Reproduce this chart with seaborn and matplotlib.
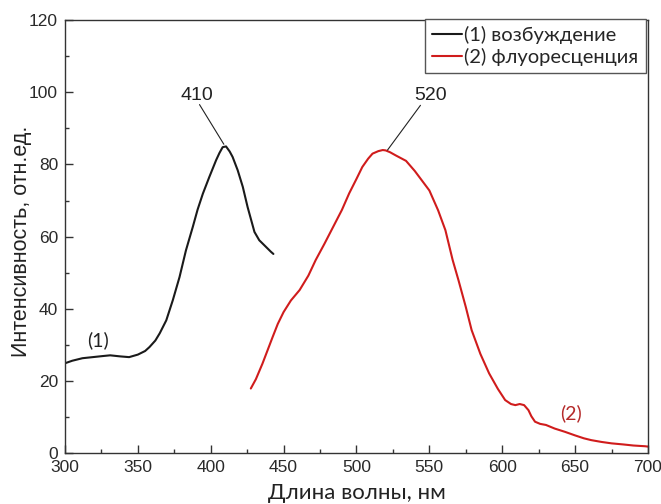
import matplotlib
matplotlib.use("Agg")
import matplotlib.pyplot as plt
from matplotlib.ticker import MultipleLocator
import numpy as np
import pandas as pd
import seaborn as sns

# Excitation spectrum (1)
exc_wl = [300, 305, 312, 319, 326, 331, 338, 344, 350, 355, 358, 362, 365,
          369.5, 374, 378.6, 383, 387.7, 391, 394.6, 399, 403.7, 406, 408.2,
          410.5, 413, 415, 418.5, 422, 425.3, 430, 433.3, 436.8, 441.3, 443]
exc_int = [24.9, 25.6, 26.3, 26.6, 26.9, 27.1, 26.8, 26.6, 27.3, 28.3, 29.4,
           31.2, 33.2, 36.8, 42.4, 48.8, 56.2, 62.7, 67.5, 71.9, 76.5, 81.2,
           83.2, 84.8, 85.0, 83.6, 82.1, 78.4, 73.8, 68.2, 61.3, 59.0, 57.6,
           55.8, 55.2]

# Fluorescence spectrum (2)
fl_wl = [427.5, 431, 435.5, 439, 442.5, 446, 450, 455, 461, 467, 472, 478,
         484, 490, 495, 500, 504, 508, 511, 515, 518, 520, 523, 527, 534, 540,
         545, 550, 556, 561, 566, 570, 575, 579, 585, 591, 597, 602, 606, 609,
         612, 615, 618, 620, 622.5, 626, 630, 636, 643, 650, 656, 661, 668,
         675, 683, 690, 698, 700]
fl_int = [17.9, 20.5, 24.8, 28.5, 32.2, 35.8, 39.1, 42.3, 45.2, 49.2, 53.5,
          58.0, 62.7, 67.4, 72.0, 76.0, 79.3, 81.6, 83.0, 83.7, 84.0, 83.9,
          83.4, 82.5, 81.0, 78.2, 75.5, 72.8, 67.3, 61.8, 53.5, 47.9, 40.5,
          34.1, 27.5, 22.1, 17.8, 14.7, 13.6, 13.3, 13.6, 13.3, 11.9, 10.2,
          8.7, 8.1, 7.8, 6.8, 5.9, 4.9, 4.1, 3.6, 3.1, 2.7, 2.4, 2.1, 1.9, 1.8]

legend_labels = ["(1) возбуждение", "(2) флуоресценция"]
peak_labels = ["410", "520"]
peak_positions = [(390.6, 99.2), (550.7, 99.2)]
leader_lines = [((392.3, 96.6), (409.0, 85.6)), ((543.9, 96.4), (521.3, 84.0))]

sns.set_theme(style="white")
plt.rcParams["font.family"] = ["Liberation Sans", "DejaVu Sans"]

df = pd.concat([
    pd.DataFrame({"wl": exc_wl, "I": exc_int, "series": legend_labels[0]}),
    pd.DataFrame({"wl": fl_wl, "I": fl_int, "series": legend_labels[1]}),
])

fig = plt.figure(figsize=(6.61, 5.04), dpi=100)
ax = fig.add_axes([0.0983, 0.101, 0.882, 0.859])

sns.lineplot(data=df, x="wl", y="I", hue="series", sort=False,
             palette={legend_labels[0]: "#1a1a1a", legend_labels[1]: "#d01c1c"},
             linewidth=1.5, ax=ax, estimator=None)

ax.set_xlim(300, 700)
ax.set_ylim(0, 120)
ax.xaxis.set_major_locator(MultipleLocator(50))
ax.xaxis.set_minor_locator(MultipleLocator(25))
ax.yaxis.set_major_locator(MultipleLocator(20))
ax.yaxis.set_minor_locator(MultipleLocator(10))
ax.tick_params(axis="both", which="major", direction="in", length=6, width=1,
               color="#333333", labelsize=12.5, labelcolor="#2a2a2a", pad=5)
ax.tick_params(axis="both", which="minor", direction="in", length=3, width=1,
               color="#333333")
ax.tick_params(bottom=True, left=True, which="both")
for s in ax.spines.values():
    s.set_color("#333333")
    s.set_linewidth(1.0)

ax.set_xlabel("Длина волны, нм", fontsize=16, family=["Lato", "DejaVu Sans"],
              color="#222222", va="center")
ax.xaxis.set_label_coords(0.5, -0.093)
ax.set_ylabel("Интенсивность, отн.ед.", fontsize=15.5,
              family=["Liberation Sans", "DejaVu Sans"], color="#222222",
              va="center")
ax.yaxis.set_label_coords(-0.074, 0.49)

# peak annotations with leader lines
for label, (tx, ty), ((x0, y0), (x1, y1)) in zip(peak_labels, peak_positions,
                                                  leader_lines):
    ax.text(tx, ty, label, fontsize=14, color="#222222", ha="center",
            va="center")
    ax.plot([x0, x1], [y0, y1], color="#222222", lw=0.8)

# curve markers
ax.text(322.6, 31.2, "(1)", fontsize=14, family=["Lato", "DejaVu Sans"],
        color="#222222", ha="center", va="center")
ax.text(647.4, 11.0, "(2)", fontsize=14, family=["Lato", "DejaVu Sans"],
        color="#b52a2a", ha="center", va="center")

leg = ax.legend(loc="upper right", bbox_to_anchor=(0.996, 1.003), frameon=True,
                fancybox=False, edgecolor="#555555", framealpha=1,
                handlelength=1.5, handletextpad=0.1, borderpad=0.35,
                labelspacing=0.2, borderaxespad=0.0,
                prop={"family": ["Lato", "DejaVu Sans"], "size": 14.5})
leg.get_frame().set_linewidth(1.0)

fig.savefig("out.png", dpi=100)
